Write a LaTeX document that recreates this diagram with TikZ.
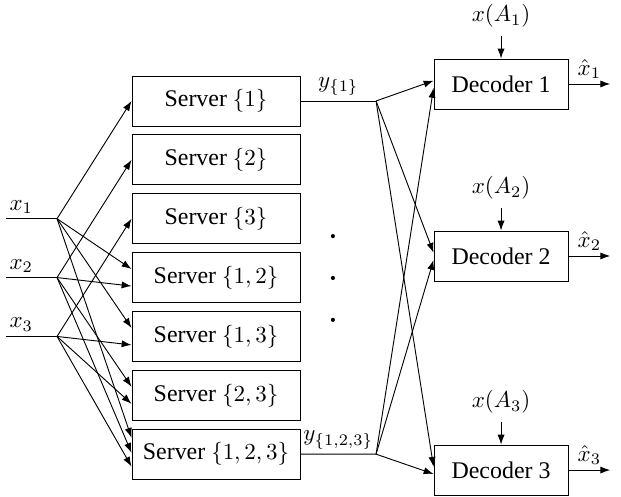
\documentclass[tikz,border=0pt]{standalone}
\usepackage{fontspec}
\setmainfont{Liberation Serif}
\usepackage{tikz}
\usetikzlibrary{positioning, arrows.meta}

\begin{document}
\begin{tikzpicture}[>={Latex[length=4.3pt, width=3.1pt]}, thin, font=\fontsize{10.4}{12.5}\selectfont]
    \tikzstyle{server}=[rectangle, draw, minimum width=2.57cm, minimum height=0.765cm, inner sep=2pt]
    \tikzstyle{decoder}=[rectangle, draw, minimum width=2.05cm, minimum height=0.765cm, inner sep=2pt]
    \tikzstyle{annot}=[inner sep=2pt]

    \useasboundingbox (0,0) rectangle (9.495,-7.584);

    % Servers
    \foreach \name/\set [count=\i] in {S1/{1}, S2/{2}, S3/{3}, S12/{1,2}, S13/{1,3}, S23/{2,3}, S123/{1,2,3}}
        \node[server] (\name) at (3.303, {-1.544-0.9*(\i-1)}) {Server $\{\set\}$};

    % Sources
    \foreach \i/\y in {1/-3.344, 2/-4.244, 3/-5.144}
    {
        \coordinate (X\i) at (0.09,\y);
        \coordinate (P\i) at (0.872,\y);
        \draw (X\i) -- (P\i) node[pos=0.3, above, annot] {$x_\i$};
    }

    % Connect sources to servers
    \foreach \src/\dst/\dy in {1/S1/0, 2/S2/0, 3/S3/0, 1/S12/0.13, 2/S12/-0.13, 1/S13/0.13, 3/S13/-0.13, 2/S23/0.13, 3/S23/-0.13, 1/S123/0.25, 2/S123/0.02, 3/S123/-0.19}
        \draw[->] (P\src) -- ([yshift=\dy cm]\dst.west);

    % Server outputs
    \coordinate (B1) at (5.75,-1.544);
    \coordinate (B123) at (5.75,-6.944);
    \draw (S1.east) -- node[above, annot] {$y_{\{1\}}$} (B1);
    \draw (S123.east) -- node[above, annot] {$y_{\{1,2,3\}}$} (B123);

    % Dots
    \foreach \y in {-3.61,-4.25,-4.89}
        \fill (5.09,\y) circle (0.9pt);

    % Decoders
    \foreach \i/\y in {1/-1.284, 2/-3.914, 3/-7.187}
    {
        \node[decoder] (D\i) at (7.661,\y) {Decoder \i};
        \node[above=0.35cm of D\i] (A\i) {$x(A_\i)$};
        \draw[->] (A\i) -- (D\i);
        \coordinate (O\i) at (9.33,\y);
        \draw[->] (D\i) -- node[above, annot] {$\hat x_\i$} (O\i);
    }

    % Connect servers to decoders
    \foreach \i in {1,2,3}
    {
        \draw[->] (B1) -- ([yshift=0.05cm]D\i.west);
        \draw[->] (B123) -- ([yshift=-0.06cm]D\i.west);
    }
\end{tikzpicture}
\end{document}
